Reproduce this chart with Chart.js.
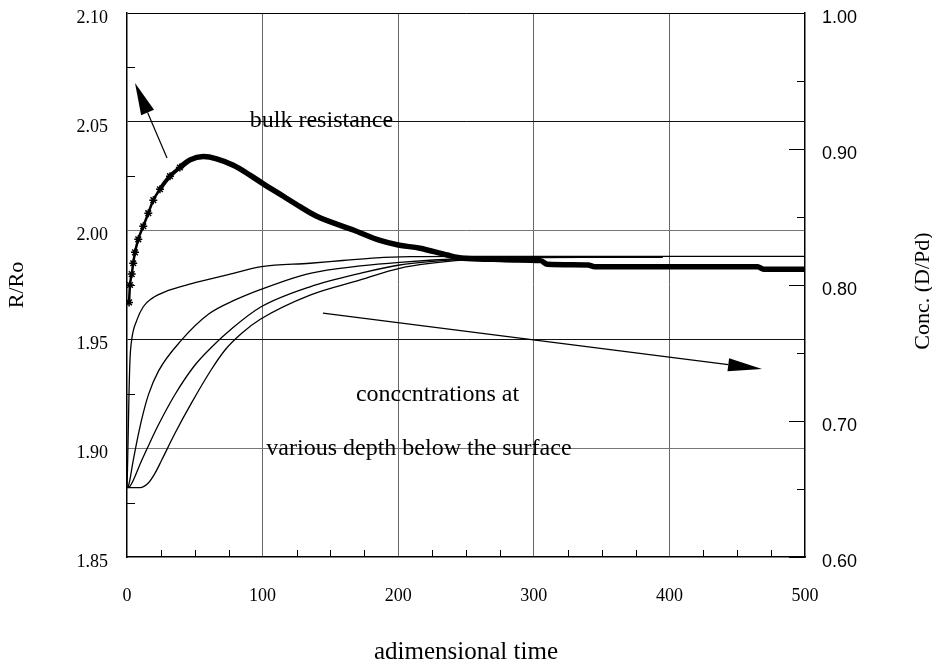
<!DOCTYPE html>
<html>
<head>
<meta charset="utf-8">
<script src="https://cdn.jsdelivr.net/npm/chart.js@4.4.1/dist/chart.umd.min.js"></script>
<style>
    html, body { margin: 0; padding: 0; background: #fff; }
</style>
</head>
<body>
<canvas id="chart" width="932" height="659"></canvas>
<script>
// bulk resistance (R/Ro)
const bulkTime  = [1.5, 2.2, 3.5, 4.6, 5.9, 8.3, 12, 15.7, 19.4, 24.3, 31.7, 39, 46.5, 56.3, 66.1, 78.4, 90.7, 100.5, 115.3, 127.6, 139.9, 166.9, 186.6, 200, 216, 236, 248, 270, 285, 305, 310, 340, 345, 400, 465, 470, 500];
const bulkRatio = [1.967, 1.975, 1.980, 1.985, 1.990, 1.996, 2.002, 2.008, 2.014, 2.019, 2.025, 2.029, 2.0325, 2.034, 2.033, 2.030, 2.0255, 2.0215, 2.0158, 2.011, 2.0066, 2.0003, 1.9955, 1.9934, 1.9919, 1.9888, 1.9873, 1.9868, 1.9865, 1.9862, 1.9845, 1.9842, 1.9834, 1.9834, 1.9834, 1.9822, 1.9822];

// concentrations at various depths (D/Pd)
const conc1Time  = [0, 0.5, 1.5, 2.2, 3.5, 7.2, 12, 18.2, 30.5, 47.7, 72.3, 99.3, 135, 159, 184, 209, 250, 300, 400, 500];
const conc1Value = [0.651, 0.671, 0.721, 0.745, 0.760, 0.774, 0.784, 0.790, 0.796, 0.801, 0.807, 0.8135, 0.816, 0.818, 0.820, 0.8208, 0.821, 0.821, 0.821, 0.821];
const conc2Time  = [0, 1, 4.6, 7.1, 10.8, 15.7, 23.1, 40.3, 60, 79.7, 99.3, 135, 172, 201, 250, 300, 395];
const conc2Value = [0.651, 0.652, 0.671, 0.684, 0.701, 0.719, 0.7365, 0.7596, 0.7785, 0.789, 0.797, 0.8086, 0.814, 0.8167, 0.8195, 0.8205, 0.8205];
const conc3Time  = [0, 2.2, 10.8, 14.5, 23.1, 35.4, 50, 62.7, 77.4, 98.3, 135, 172, 201, 250, 300, 395];
const conc3Value = [0.651, 0.652, 0.671, 0.679, 0.697, 0.7195, 0.741, 0.7546, 0.768, 0.7836, 0.7987, 0.8086, 0.8147, 0.819, 0.8203, 0.8205];
const conc4Time  = [0, 9.6, 15.7, 20.6, 25.6, 35.4, 47.7, 62, 72.3, 84.6, 98.3, 135, 172, 201, 250, 300, 395];
const conc4Value = [0.651, 0.651, 0.6544, 0.6615, 0.6713, 0.691, 0.7135, 0.7375, 0.7522, 0.7645, 0.7748, 0.7926, 0.8037, 0.8123, 0.8184, 0.820, 0.8205];

// axis ranges
const timeRange  = [0, 500];
const ratioRange = [1.85, 2.10];
const concRange  = [0.60, 1.00];

const serif = '"Liberation Serif", "Times New Roman", serif';
const sans = '"Liberation Sans", Arial, sans-serif';

const zip = (xs, ys) => xs.map((x, i) => ({ x, y: ys[i] }));
const isStep = (v, step) => Math.abs(Math.round(v / step) * step - v) < 1e-6;

function concLine(label, xs, ys) {
    return {
        label, data: zip(xs, ys), yAxisID: 'y2',
        borderColor: '#000', borderWidth: 1.3, pointRadius: 0,
        cubicInterpolationMode: 'monotone', fill: false
    };
}

function drawArrow(ctx, x1, y1, x2, y2, headLen, halfW) {
    const a = Math.atan2(y2 - y1, x2 - x1);
    const bx = x2 - headLen * Math.cos(a), by = y2 - headLen * Math.sin(a);
    ctx.beginPath();
    ctx.moveTo(x1, y1);
    ctx.lineTo(bx, by);
    ctx.stroke();
    ctx.beginPath();
    ctx.moveTo(x2, y2);
    ctx.lineTo(bx + halfW * Math.sin(a), by - halfW * Math.cos(a));
    ctx.lineTo(bx - halfW * Math.sin(a), by + halfW * Math.cos(a));
    ctx.closePath();
    ctx.fill();
}

// inward minor ticks, arrows, notes and the right title
const decorations = {
    id: 'decorations',
    afterDraw(chart) {
        const { ctx, chartArea: area, scales: { x, y, y2 } } = chart;
        ctx.save();
        ctx.strokeStyle = '#000';
        ctx.fillStyle = '#000';
        ctx.lineWidth = 1;
        ctx.beginPath();
        y.ticks.forEach(t => {
            if (isStep(t.value, 0.05)) return;
            const py = Math.round(y.getPixelForValue(t.value)) + 0.5;
            ctx.moveTo(area.left, py);
            ctx.lineTo(area.left + 8, py);
        });
        y2.ticks.forEach(t => {
            const py = Math.round(y2.getPixelForValue(t.value)) + 0.5;
            ctx.moveTo(area.right, py);
            ctx.lineTo(area.right - (isStep(t.value, 0.1) ? 16 : 8), py);
        });
        x.ticks.forEach(t => {
            if (isStep(t.value, 100)) return;
            const px = Math.round(x.getPixelForValue(t.value)) + 0.5;
            ctx.moveTo(px, area.bottom);
            ctx.lineTo(px, area.bottom - 7);
        });
        ctx.stroke();

        // arrows (given in data units)
        ctx.lineWidth = 1.2;
        drawArrow(ctx, x.getPixelForValue(29.5), y.getPixelForValue(2.0334),
                       x.getPixelForValue(5.9), y.getPixelForValue(2.0678), 32, 7);
        drawArrow(ctx, x.getPixelForValue(144.5), y.getPixelForValue(1.9621),
                       x.getPixelForValue(468.3), y.getPixelForValue(1.9364), 34, 6.5);

        // notes
        ctx.font = '24px ' + serif;
        ctx.textAlign = 'center';
        ctx.textBaseline = 'middle';
        ctx.fillText('bulk resistance', x.getPixelForValue(143.4), y.getPixelForValue(2.0504));
        ctx.fillText('conccntrations at', x.getPixelForValue(229), y.getPixelForValue(1.9245));
        ctx.fillText('various depth below the surface', x.getPixelForValue(215.3), y.getPixelForValue(1.8996));

        // right axis title reads bottom to top
        ctx.font = '22px ' + serif;
        ctx.translate(chart.width - 9, (area.top + area.bottom) / 2 + 6);
        ctx.rotate(-Math.PI / 2);
        ctx.fillText('Conc. (D/Pd)', 0, 0);
        ctx.restore();
    }
};

const fitWidth = s => { s.width = 127; s.paddingTop = 0; s.paddingBottom = 0; };

new Chart(document.getElementById('chart'), {
    type: 'line',
    data: {
        datasets: [
            {
                label: 'bulk resistance', data: zip(bulkTime, bulkRatio), yAxisID: 'y',
                borderColor: '#000', borderWidth: 5.5, backgroundColor: '#000',
                segment: { borderWidth: c => bulkTime[c.p1DataIndex] <= 24.3 ? 2.5 : (bulkTime[c.p1DataIndex] <= 39 ? 4 : 5.5) },
                pointStyle: 'star', pointBorderWidth: 1.5, pointBorderColor: '#000',
                pointRadius: c => bulkTime[c.dataIndex] < 45 ? 4 : 0,
                cubicInterpolationMode: 'monotone', fill: false
            },
            concLine('depth 1', conc1Time, conc1Value),
            concLine('depth 2', conc2Time, conc2Value),
            concLine('depth 3', conc3Time, conc3Value),
            concLine('depth 4', conc4Time, conc4Value)
        ]
    },
    options: {
        responsive: false,
        animation: false,
        layout: { padding: { top: 13, left: 0, right: 0, bottom: 0 } },
        plugins: { legend: { display: false }, tooltip: { enabled: false } },
        scales: {
            x: {
                type: 'linear', min: timeRange[0], max: timeRange[1],
                afterFit: s => { s.height = 102; s.paddingLeft = 0; s.paddingRight = 0; },
                border: { color: '#000', width: 1.5 },
                grid: {
                    drawTicks: false,
                    color: c => (isStep(c.tick.value, 100) && c.tick.value > 0 && c.tick.value < 500) ? '#666' : 'rgba(0,0,0,0)'
                },
                ticks: {
                    stepSize: 25, autoSkip: false, maxRotation: 0, padding: 28,
                    color: '#000', font: { family: serif, size: 18 },
                    callback: v => isStep(v, 100) ? String(Math.round(v)) : ''
                },
                title: {
                    display: true, text: 'adimensional time', color: '#000',
                    font: { family: serif, size: 25, lineHeight: 0.56 }, padding: { top: 0, bottom: 0 }
                }
            },
            y: {
                type: 'linear', position: 'left', min: ratioRange[0], max: ratioRange[1],
                afterFit: fitWidth,
                border: { color: '#000', width: 1.5 },
                grid: {
                    drawTicks: false,
                    color: c => {
                        const v = c.tick.value;
                        if (!isStep(v, 0.05) || isStep(v - 1.85, 1)) return 'rgba(0,0,0,0)';
                        if (isStep(v - 2.10, 1)) return '#000';
                        return isStep(v, 0.1) ? '#777' : '#111';
                    }
                },
                ticks: {
                    stepSize: 0.025, autoSkip: false, padding: 19, labelOffset: 5,
                    color: '#000', font: { family: serif, size: 18 },
                    callback: v => isStep(v, 0.05) ? v.toFixed(2) : ''
                },
                title: {
                    display: true, text: 'R/Ro', color: '#000',
                    font: { family: serif, size: 22 }, padding: { top: 4, bottom: 0 }
                }
            },
            y2: {
                type: 'linear', position: 'right', min: concRange[0], max: concRange[1],
                afterFit: fitWidth,
                border: { color: '#000', width: 1.5 },
                grid: { drawOnChartArea: false, drawTicks: false },
                ticks: {
                    stepSize: 0.05, autoSkip: false, padding: 17, labelOffset: 5,
                    color: '#000', font: { family: sans, size: 18 },
                    callback: v => isStep(v, 0.1) ? v.toFixed(2) : ''
                }
            }
        }
    },
    plugins: [decorations]
});
</script>
</body>
</html>
